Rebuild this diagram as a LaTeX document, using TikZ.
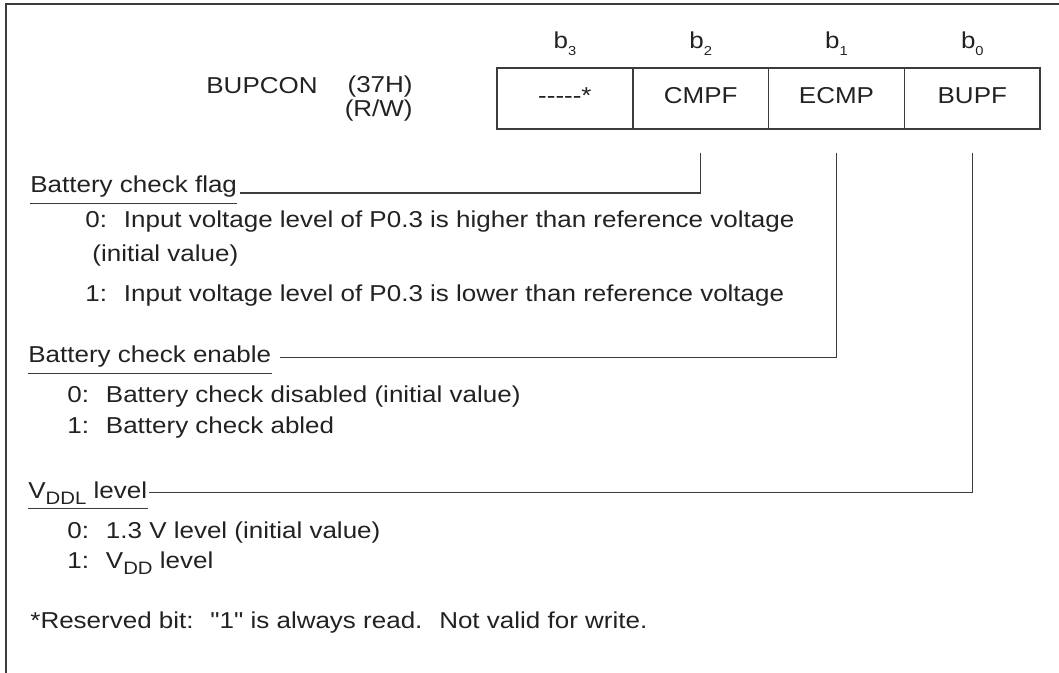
\documentclass[tikz,border=0pt]{standalone}
\usepackage{fontspec}
\setmainfont{Liberation Sans}[FakeStretch=1.13, Ligatures=TeXOff]
\usepackage{tikz}
\usetikzlibrary{positioning}
\definecolor{ink}{RGB}{34,34,34}
\definecolor{rule}{RGB}{60,60,60}
\newcommand{\bitsub}[1]{\raisebox{-0.3em}{\fontsize{6.5}{7}\selectfont #1}}
\newcommand{\vsub}[1]{\raisebox{-0.3em}{\fontsize{9}{10}\selectfont #1}}

\begin{document}
\begin{tikzpicture}[x=0.5pt, y=-0.5pt, font=\fontsize{11.5}{14}\selectfont, text=ink,
    cell/.style={draw=rule, line width=0.8pt, minimum width=67.9pt, minimum height=30.5pt, inner sep=0pt, outer sep=0pt, text depth=0.3em},
    bit/.style={inner sep=1pt},
    txt/.style={anchor=base west, inner sep=0pt},
    head/.style={anchor=base west, inner xsep=0pt, inner ysep=5pt, text depth=0pt},
    wire/.style={draw=rule, line width=0.75pt}]
        \useasboundingbox (0,0) rectangle (1059,673);
        \draw[rule, line width=1pt] (6,673) -- (6,4) -- (1059,4);

        \node[cell] (rsv) at (564.9,98.5) {-----*};
        \node[cell, right=0pt of rsv] (cmpf) {CMPF};
        \node[cell, right=0pt of cmpf] (ecmp) {ECMP};
        \node[cell, right=0pt of ecmp] (bupf) {BUPF};

        \node[bit, above=5pt of rsv] (b3) {b\bitsub{3}};
        \node[bit, above=5pt of cmpf] (b2) {b\bitsub{2}};
        \node[bit, above=5pt of ecmp] (b1) {b\bitsub{1}};
        \node[bit, above=5pt of bupf] (b0) {b\bitsub{0}};

        \node[txt, anchor=base east] (regname) at (318,94) {BUPCON};
        \node[txt, anchor=base east] (regaddr) at (413,93) {(37H)};
        \node[txt, anchor=base east] (regrw) at (413,117) {(R/W)};

        \node[head] (flag) at (30,193) {Battery check flag};
        \node[txt] (flag0) at (85,228) {0:~ Input voltage level of P0.3 is higher than reference voltage};
        \node[txt] (flaginit) at (92,262) {(initial value)};
        \node[txt] (flag1) at (85,302) {1:~ Input voltage level of P0.3 is lower than reference voltage};

        \node[head] (enable) at (28,363) {Battery check enable};
        \node[txt] (enable0) at (67,402) {0:~ Battery check disabled (initial value)};
        \node[txt] (enable1) at (67,433) {1:~ Battery check abled};

        \node[head] (vddl) at (28,498) {V\vsub{DDL} level\hspace{7.5pt}};
        \node[txt] (vddl0) at (67,538) {0:~ 1.3 V level (initial value)};
        \node[txt] (vddl1) at (67,568) {1:~ V\vsub{DD} level};

        \node[txt] (note) at (30,628) {*Reserved bit:~ "1" is always read.~ Not valid for write.};

        \draw[wire] (flag.south west) -- (flag.south east);
        \draw[wire] (enable.south west) -- (enable.south east);
        \draw[wire] (vddl.south west) -- (vddl.south east);

        \draw[wire] (cmpf.south) ++(0,24) |- ([xshift=1.5pt]flag.base east);
        \draw[wire] (ecmp.south) ++(0,24) |- ([xshift=4pt]enable.mid east);
        \draw[wire] (bupf.south) ++(0,24) |- ([xshift=0.5pt]vddl.mid east);
    \end{tikzpicture}
\end{document}
